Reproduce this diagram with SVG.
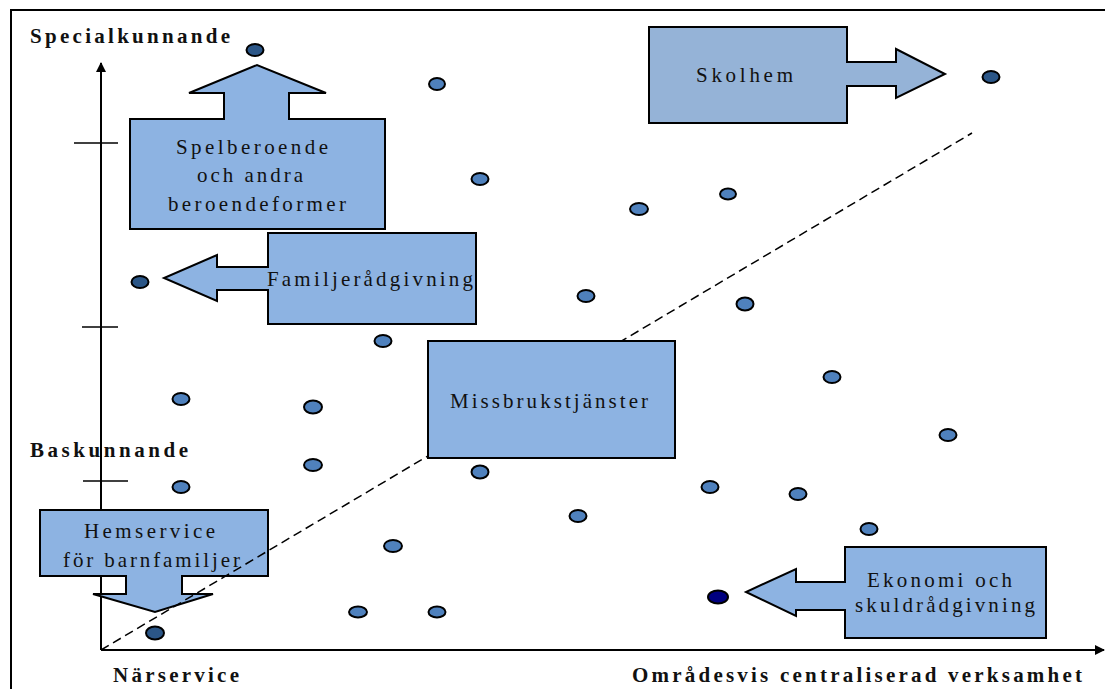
<svg xmlns="http://www.w3.org/2000/svg" width="1105" height="689" viewBox="0 0 1105 689">
<style>
.node{fill:#8db3e2;stroke:#000;stroke-width:2;stroke-linejoin:miter}
.lbl{font-family:"Liberation Serif","Times New Roman",serif;font-size:21px;fill:#111;text-anchor:start}
.ax{font-family:"Liberation Serif","Times New Roman",serif;font-size:21px;font-weight:bold;fill:#111}
.dot{fill:#4f81bd;stroke:#000;stroke-width:2}
.dk{fill:#2b5687}
.nv{fill:#000080}
.axis{stroke:#000;stroke-width:2;fill:none}
.tick{stroke:#000;stroke-width:1.3}
</style>
<defs>
<marker id="ah" viewBox="0 0 10 10" refX="9" refY="5" markerWidth="10" markerHeight="10" markerUnits="userSpaceOnUse" orient="auto">
<path d="M0,0 L10,5 L0,10 Z" fill="#000"/>
</marker>
</defs>
<rect x="11" y="10" width="1110" height="700" fill="#fff" stroke="#000" stroke-width="2"/>
<g id="axes">
<line class="axis" x1="101" y1="650" x2="101" y2="63" marker-end="url(#ah)"/>
<line class="axis" x1="101" y1="650" x2="1104" y2="650" marker-end="url(#ah)"/>
<line class="tick" x1="74" y1="143" x2="118" y2="143"/>
<line class="tick" x1="82" y1="327" x2="118" y2="327"/>
<line class="tick" x1="83" y1="481" x2="128" y2="481"/>
</g>
<text class="ax" x="30" y="43" textLength="200" lengthAdjust="spacing">Specialkunnande</text>
<text class="ax" x="30" y="457" textLength="158" lengthAdjust="spacing">Baskunnande</text>
<text class="ax" x="113" y="682" textLength="126" lengthAdjust="spacing">Närservice</text>
<text class="ax" x="632" y="682" textLength="450" lengthAdjust="spacing">Områdesvis centraliserad verksamhet</text>
<g id="dots">
<ellipse class="dot dk" cx="255" cy="50" rx="8.5" ry="6"/>
<ellipse class="dot" cx="437" cy="84" rx="8" ry="6"/>
<ellipse class="dot dk" cx="991" cy="77" rx="8.5" ry="6"/>
<ellipse class="dot" cx="480" cy="179" rx="8.5" ry="6"/>
<ellipse class="dot" cx="728" cy="194" rx="8" ry="5.5"/>
<ellipse class="dot" cx="639" cy="209" rx="9" ry="6"/>
<ellipse class="dot dk" cx="140" cy="282" rx="8.5" ry="6"/>
<ellipse class="dot" cx="586" cy="296" rx="8.5" ry="6"/>
<ellipse class="dot" cx="745" cy="304" rx="8.5" ry="6.5"/>
<ellipse class="dot" cx="383" cy="341" rx="8.5" ry="6"/>
<ellipse class="dot" cx="832" cy="377" rx="8.5" ry="6"/>
<ellipse class="dot" cx="181" cy="399" rx="8.5" ry="6"/>
<ellipse class="dot" cx="313" cy="407" rx="9" ry="6.5"/>
<ellipse class="dot" cx="948" cy="435" rx="8.5" ry="6"/>
<ellipse class="dot" cx="313" cy="465" rx="9" ry="6"/>
<ellipse class="dot" cx="181" cy="487" rx="8.5" ry="6"/>
<ellipse class="dot" cx="480" cy="472" rx="8.5" ry="6.5"/>
<ellipse class="dot" cx="710" cy="487" rx="8.5" ry="6"/>
<ellipse class="dot" cx="798" cy="494" rx="8.5" ry="6"/>
<ellipse class="dot" cx="578" cy="516" rx="8.5" ry="6"/>
<ellipse class="dot" cx="869" cy="529" rx="8.5" ry="6"/>
<ellipse class="dot" cx="393" cy="546" rx="9" ry="6"/>
<ellipse class="dot" cx="358" cy="612" rx="9" ry="5.5"/>
<ellipse class="dot" cx="437" cy="612" rx="8.5" ry="5.5"/>
<ellipse class="dot nv" cx="718" cy="597" rx="10" ry="6.5"/>
<ellipse class="dot dk" cx="155" cy="633" rx="9" ry="6.5"/>
</g>
<g id="node-hemservice">
<path class="node" d="M40,510 H268 V576 H182 V594 H213 L155,612 L93,594 H126 V576 H40 Z"/>
<text class="lbl" x="84" y="538" textLength="131" lengthAdjust="spacing">Hemservice</text>
<text class="lbl" x="63" y="567" textLength="177" lengthAdjust="spacing">för barnfamiljer</text>
</g>
<g id="connectors">
<line x1="101" y1="650" x2="972" y2="133" stroke="#000" stroke-width="1.5" stroke-dasharray="9,5"/>
</g>
<g id="node-missbruk">
<rect class="node" x="428" y="341" width="247" height="117"/>
<text class="lbl" x="450" y="408" textLength="198" lengthAdjust="spacing">Missbrukstjänster</text>
</g>
<g id="node-spelberoende">
<path class="node" d="M130,119 H224 V93 H189 L257,65 L326,93 H289 V119 H385 V229 H130 Z"/>
<text class="lbl" x="176" y="154" textLength="152" lengthAdjust="spacing">Spelberoende</text>
<text class="lbl" x="197" y="182" textLength="106" lengthAdjust="spacing">och andra</text>
<text class="lbl" x="168" y="211" textLength="178" lengthAdjust="spacing">beroendeformer</text>
</g>
<g id="node-familj">
<path class="node" d="M268,233 H476 V324 H268 V290 H217 V301 L164,278 L217,255 V267 H268 Z"/>
<text class="lbl" x="267" y="286" textLength="206" lengthAdjust="spacing">Familjerådgivning</text>
</g>
<g id="node-skolhem">
<path class="node" style="fill:#95b3d7" d="M649,27 H847 V62 H896 V49 L945,74 L896,98 V86 H847 V123 H649 Z"/>
<text class="lbl" x="696" y="82" textLength="97" lengthAdjust="spacing">Skolhem</text>
</g>
<g id="node-ekonomi">
<path class="node" d="M845,547 H1046 V638 H845 V610 H796 V616 L746,592 L796,569 V582 H845 Z"/>
<text class="lbl" x="867" y="587" textLength="145" lengthAdjust="spacing">Ekonomi och</text>
<text class="lbl" x="855" y="612" textLength="180" lengthAdjust="spacing">skuldrådgivning</text>
</g>
</svg>
